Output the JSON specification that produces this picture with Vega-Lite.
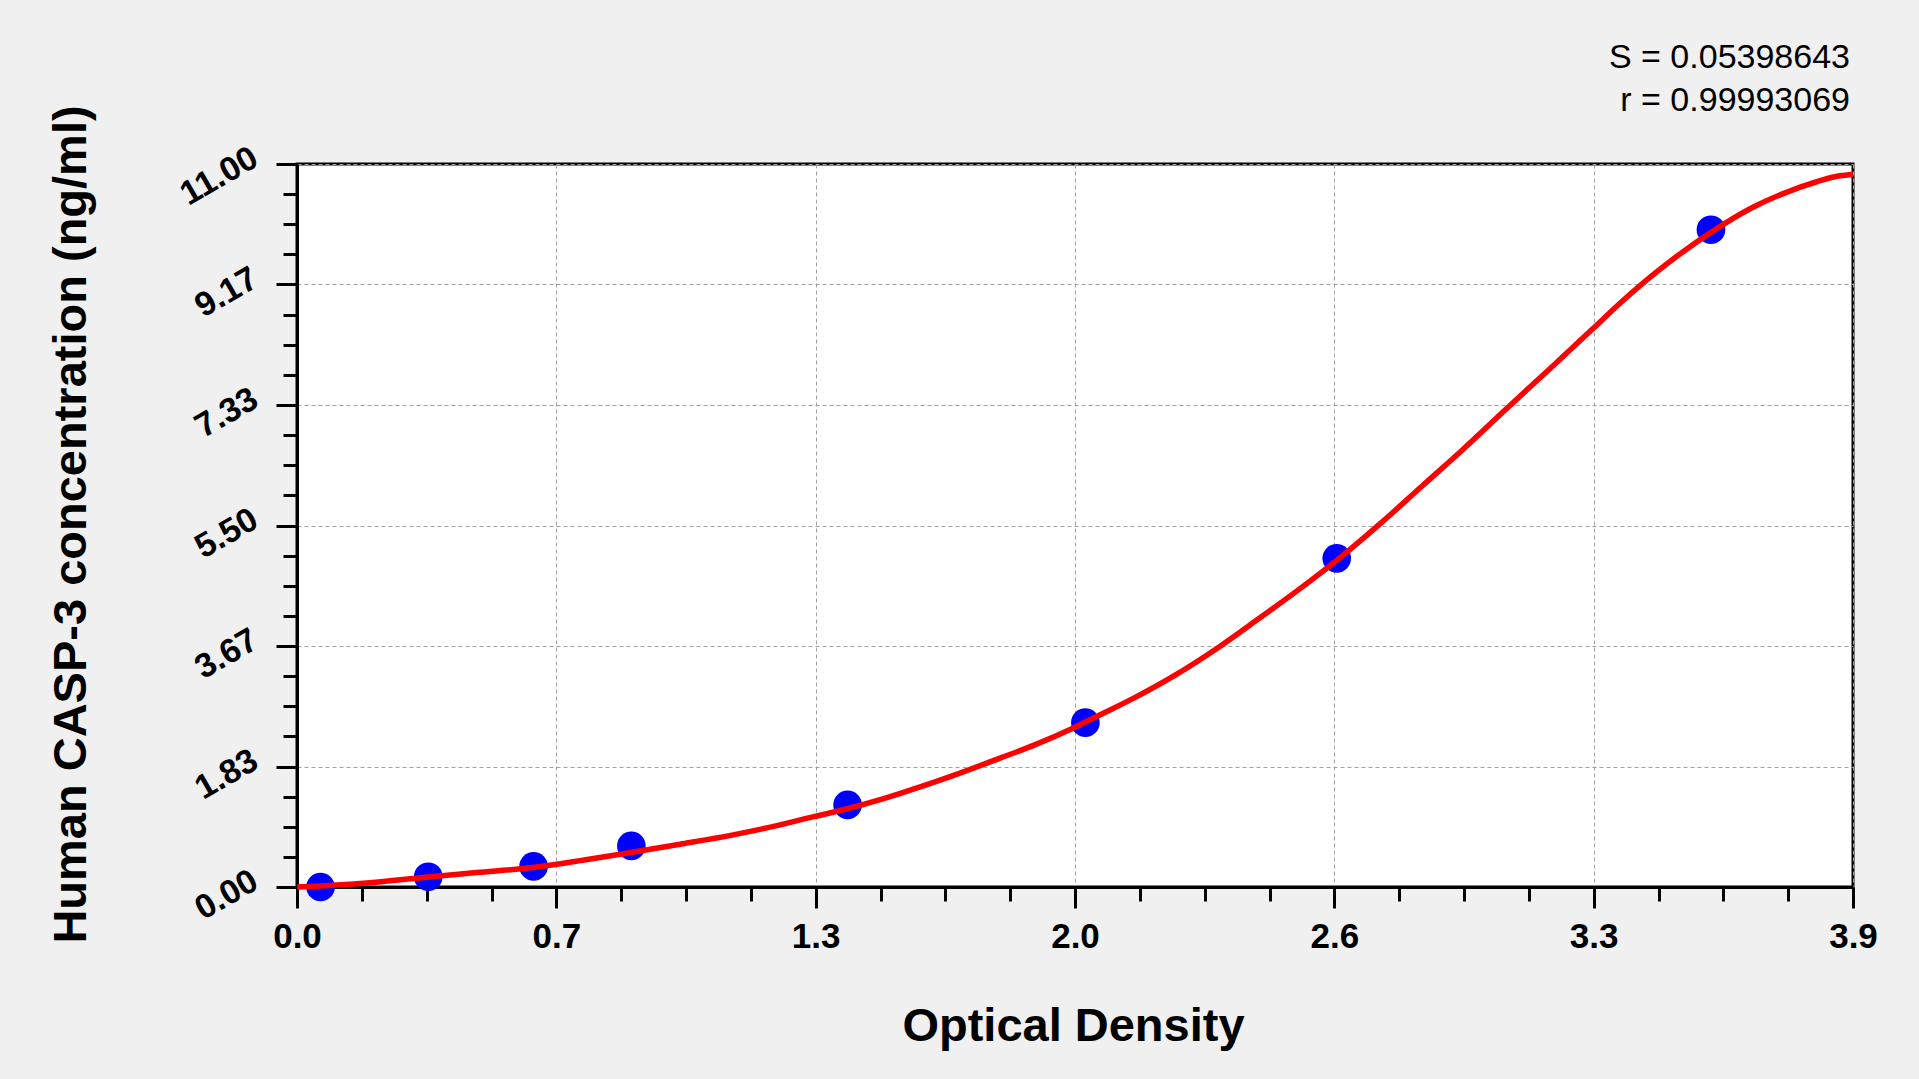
{
  "$schema": "https://vega.github.io/schema/vega-lite/v6.json",
  "description": "Standard curve: Human CASP-3 concentration against optical density",
  "width": 1556,
  "height": 723,
  "autosize": "none",
  "padding": {"left": 297, "top": 164, "right": 66, "bottom": 192},
  "background": "#f0f0f0",
  "title": {
    "text": "S = 0.05398643",
    "subtitle": "r = 0.99993069",
    "anchor": "end",
    "frame": "group",
    "dx": -3,
    "offset": -13,
    "font": "Liberation Sans",
    "fontSize": 34,
    "fontWeight": "normal",
    "color": "black",
    "subtitleFont": "Liberation Sans",
    "subtitleFontSize": 34,
    "subtitleColor": "black",
    "subtitlePadding": 9
  },
  "datasets": {
    "standards": [
      {"od": 0.059, "conc": 0},
      {"od": 0.329, "conc": 0.156},
      {"od": 0.593, "conc": 0.313},
      {"od": 0.838, "conc": 0.625},
      {"od": 1.38, "conc": 1.25},
      {"od": 1.976, "conc": 2.5},
      {"od": 2.606, "conc": 5},
      {"od": 3.544, "conc": 10}
    ],
    "fit": [
      {"od": 0, "conc": 0},
      {"od": 0.1, "conc": 0.03},
      {"od": 0.182, "conc": 0.065},
      {"od": 0.322, "conc": 0.15},
      {"od": 0.45, "conc": 0.22},
      {"od": 0.596, "conc": 0.3},
      {"od": 0.72, "conc": 0.41},
      {"od": 0.833, "conc": 0.52},
      {"od": 0.96, "conc": 0.65},
      {"od": 1.09, "conc": 0.79},
      {"od": 1.2, "conc": 0.93},
      {"od": 1.295, "conc": 1.07},
      {"od": 1.379, "conc": 1.19},
      {"od": 1.468, "conc": 1.34},
      {"od": 1.56, "conc": 1.52},
      {"od": 1.66, "conc": 1.73},
      {"od": 1.762, "conc": 1.96},
      {"od": 1.852, "conc": 2.17},
      {"od": 1.946, "conc": 2.42},
      {"od": 2.013, "conc": 2.62},
      {"od": 2.096, "conc": 2.87},
      {"od": 2.2, "conc": 3.22},
      {"od": 2.313, "conc": 3.66},
      {"od": 2.41, "conc": 4.08},
      {"od": 2.514, "conc": 4.54},
      {"od": 2.606, "conc": 4.97},
      {"od": 2.723, "conc": 5.57},
      {"od": 2.82, "conc": 6.1},
      {"od": 2.923, "conc": 6.66},
      {"od": 3.03, "conc": 7.27},
      {"od": 3.141, "conc": 7.89},
      {"od": 3.249, "conc": 8.5},
      {"od": 3.325, "conc": 8.93},
      {"od": 3.4, "conc": 9.32},
      {"od": 3.475, "conc": 9.67},
      {"od": 3.544, "conc": 9.96},
      {"od": 3.642, "conc": 10.32},
      {"od": 3.725, "conc": 10.55},
      {"od": 3.809, "conc": 10.73},
      {"od": 3.867, "conc": 10.82},
      {"od": 3.9, "conc": 10.84}
    ]
  },
  "resolve": {"axis": {"x": "independent", "y": "independent"}},
  "layer": [
    {
      "data": {"name": "standards"},
      "mark": {"type": "point", "shape": "circle", "filled": true, "size": 820, "color": "#0000ff", "opacity": 1},
      "encoding": {
        "x": {
          "field": "od",
          "type": "quantitative",
          "scale": {"domain": [0, 3.9], "nice": false, "zero": false},
          "axis": {
            "orient": "bottom",
            "values": [0, 0.65, 1.3, 1.95, 2.6, 3.25, 3.9],
            "labelExpr": "format(datum.value + 0.0001, '.1f')",
            "labelFlush": false,
            "labelOverlap": false,
            "labelFont": "Liberation Sans",
            "labelFontWeight": "bold",
            "labelFontSize": 35,
            "labelColor": "black",
            "labelBaseline": "alphabetic",
            "labelPadding": 39,
            "tickSize": 21,
            "tickWidth": 3,
            "tickColor": "black",
            "domainColor": "black",
            "domainWidth": 3,
            "grid": true,
            "gridColor": "#a0a0a0",
            "gridDash": [4, 3],
            "gridWidth": 1,
            "title": "Optical Density",
            "titleFont": "Liberation Sans",
            "titleFontWeight": "bold",
            "titleFontSize": 47,
            "titleColor": "black",
            "titleBaseline": "alphabetic",
            "titleX": 776,
            "titleY": 153
          }
        },
        "y": {
          "field": "conc",
          "type": "quantitative",
          "scale": {"domain": [0, 11], "nice": false, "zero": false},
          "axis": {
            "orient": "left",
            "values": [0, 1.833333, 3.666667, 5.5, 7.333333, 9.166667, 11],
            "format": ".2f",
            "labelFlush": false,
            "labelOverlap": false,
            "labelFont": "Liberation Sans",
            "labelFontWeight": "bold",
            "labelFontSize": 34,
            "labelColor": "black",
            "labelAngle": -30,
            "labelAlign": "right",
            "labelBaseline": "alphabetic",
            "labelPadding": 16,
            "tickSize": 21,
            "tickWidth": 3,
            "tickColor": "black",
            "domainColor": "black",
            "domainWidth": 3,
            "grid": true,
            "gridColor": "#a0a0a0",
            "gridDash": [4, 3],
            "gridWidth": 1,
            "title": "Human CASP-3 concentration (ng/ml)",
            "titleFont": "Liberation Sans",
            "titleFontWeight": "bold",
            "titleFontSize": 47,
            "titleColor": "black",
            "titleAngle": -90,
            "titleAlign": "center",
            "titleBaseline": "alphabetic",
            "titleX": -212,
            "titleY": 360
          }
        }
      }
    },
    {
      "data": {"name": "fit"},
      "mark": {"type": "line", "color": "#ff0000", "strokeWidth": 5.5, "interpolate": "monotone"},
      "encoding": {
        "x": {
          "field": "od",
          "type": "quantitative",
          "axis": {
            "orient": "bottom",
            "values": [0.1625, 0.325, 0.4875, 0.8125, 0.975, 1.1375, 1.4625, 1.625, 1.7875, 2.1125, 2.275, 2.4375, 2.7625, 2.925, 3.0875, 3.4125, 3.575, 3.7375],
            "labels": false,
            "domain": false,
            "grid": false,
            "tickSize": 14,
            "tickWidth": 3,
            "tickColor": "black",
            "title": null
          }
        },
        "y": {
          "field": "conc",
          "type": "quantitative",
          "axis": {
            "orient": "left",
            "values": [0.458333, 0.916667, 1.375, 2.291667, 2.75, 3.208333, 4.125, 4.583333, 5.041667, 5.958333, 6.416667, 6.875, 7.791667, 8.25, 8.708333, 9.625, 10.083333, 10.541667],
            "labels": false,
            "domain": false,
            "grid": false,
            "tickSize": 14,
            "tickWidth": 3,
            "tickColor": "black",
            "title": null
          }
        }
      }
    }
  ],
  "config": {
    "view": {"stroke": "black", "strokeWidth": 3, "fill": "white"}
  }
}
